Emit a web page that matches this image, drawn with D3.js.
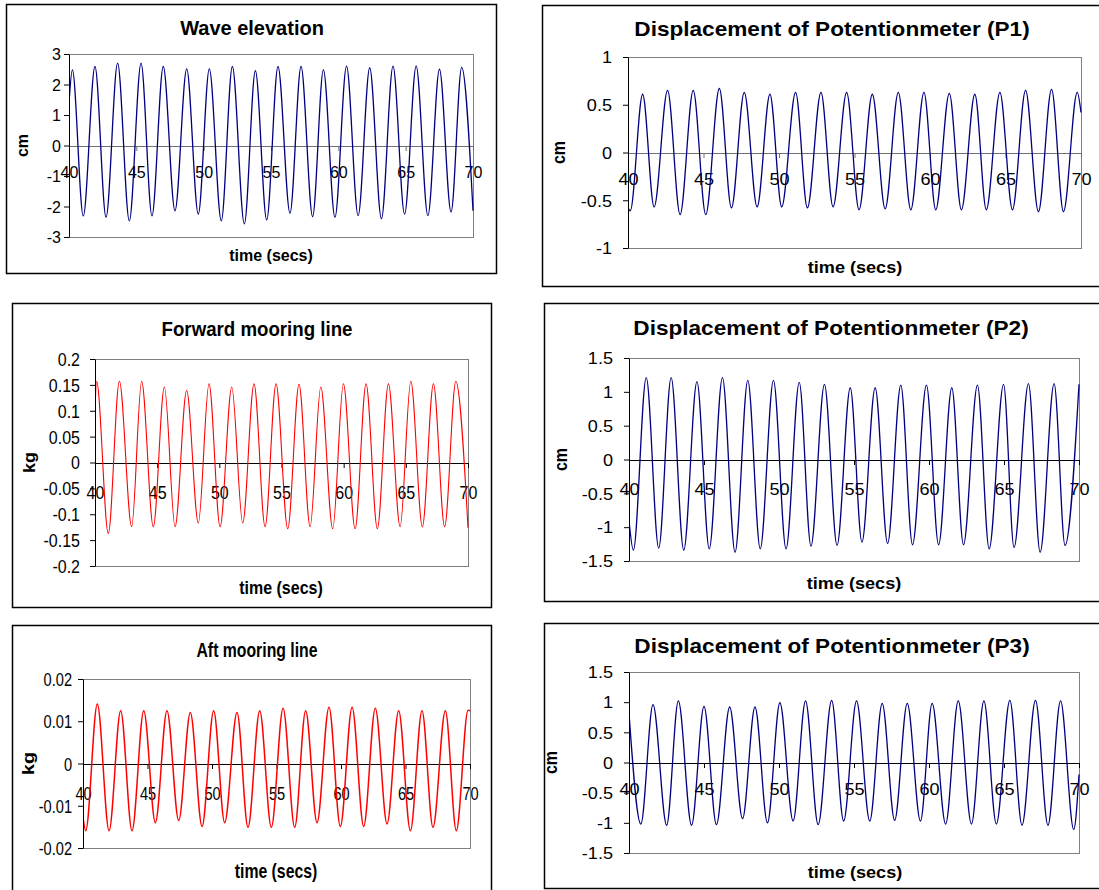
<!DOCTYPE html>
<html lang="en">
<head>
<meta charset="utf-8">
<title>Mooring test time series</title>
<script src="https://d3js.org/d3.v7.min.js"></script>
<style>
body { margin: 0; background: #fff; }
text { font-family: "Liberation Sans", Arial, sans-serif; }
</style>
</head>
<body>
<div id="chart"></div>
<script>
// time axis shared by all six charts
var xTicks = [40, 45, 50, 55, 60, 65, 70];

// extrema (time in s, value)
var waveTime = [40.0, 40.25, 41.06, 41.93, 42.75, 43.61, 44.48, 45.35, 46.16, 47.0, 47.87, 48.74, 49.6, 50.42, 51.31, 52.13, 53.02, 53.84, 54.68, 55.52, 56.41, 57.23, 58.09, 58.89, 59.75, 60.61, 61.47, 62.33, 63.2, 64.06, 64.92, 65.78, 66.65, 67.51, 68.37, 69.16, 70.0];
var waveElev = [1.39, 2.48, -2.31, 2.59, -2.35, 2.7, -2.47, 2.7, -2.31, 2.59, -2.14, 2.51, -2.25, 2.51, -2.47, 2.59, -2.57, 2.45, -2.44, 2.59, -2.22, 2.59, -2.33, 2.48, -2.35, 2.6, -2.3, 2.55, -2.4, 2.6, -2.25, 2.6, -2.3, 2.5, -2.18, 2.56, -2.14];
var waveTicks = [-3, -2, -1, 0, 1, 2, 3];

var p1Time = [40.0, 40.15, 40.97, 41.73, 42.62, 43.45, 44.32, 45.15, 46.05, 46.85, 47.7, 48.55, 49.4, 50.18, 51.1, 51.88, 52.78, 53.58, 54.48, 55.3, 56.18, 57.03, 57.9, 58.73, 59.6, 60.38, 61.28, 62.08, 62.97, 63.73, 64.63, 65.46, 66.33, 67.18, 68.05, 68.84, 69.75, 70.0];
var p1Disp = [-0.58, -0.61, 0.61, -0.57, 0.65, -0.65, 0.65, -0.65, 0.67, -0.58, 0.63, -0.57, 0.61, -0.57, 0.63, -0.58, 0.63, -0.57, 0.63, -0.6, 0.61, -0.59, 0.63, -0.6, 0.63, -0.6, 0.62, -0.6, 0.61, -0.6, 0.63, -0.6, 0.65, -0.62, 0.66, -0.62, 0.63, 0.42];
var p1Ticks = [-1, -0.5, 0, 0.5, 1];

var fwdTime = [40.0, 40.13, 41.07, 41.96, 42.95, 43.75, 44.69, 45.58, 46.44, 47.37, 48.31, 49.17, 50.06, 51.0, 51.88, 52.79, 53.68, 54.56, 55.5, 56.41, 57.3, 58.16, 59.12, 59.98, 60.92, 61.8, 62.71, 63.6, 64.54, 65.4, 66.33, 67.22, 68.12, 69.02, 70.0];
var fwdLoad = [0.1, 0.157, -0.137, 0.157, -0.124, 0.157, -0.124, 0.146, -0.124, 0.139, -0.117, 0.152, -0.124, 0.146, -0.117, 0.152, -0.124, 0.152, -0.128, 0.151, -0.124, 0.146, -0.128, 0.152, -0.128, 0.152, -0.128, 0.152, -0.124, 0.157, -0.124, 0.152, -0.124, 0.157, -0.126];
var fwdTicks = [-0.2, -0.15, -0.1, -0.05, 0, 0.05, 0.1, 0.15, 0.2];

var p2Time = [40.0, 40.29, 41.15, 41.98, 42.81, 43.65, 44.53, 45.35, 46.23, 47.07, 47.92, 48.75, 49.63, 50.47, 51.35, 52.13, 53.03, 53.87, 54.75, 55.53, 56.41, 57.24, 58.12, 58.9, 59.83, 60.64, 61.52, 62.3, 63.23, 64.01, 64.97, 65.67, 66.63, 67.41, 68.34, 69.07, 70.0];
var p2Disp = [-0.9, -1.34, 1.21, -1.31, 1.21, -1.34, 1.15, -1.32, 1.21, -1.37, 1.17, -1.32, 1.17, -1.32, 1.14, -1.28, 1.11, -1.27, 1.06, -1.22, 1.06, -1.24, 1.1, -1.26, 1.1, -1.26, 1.06, -1.26, 1.1, -1.32, 1.11, -1.3, 1.12, -1.37, 1.12, -1.27, 1.11];
var p2Ticks = [-1.5, -1, -0.5, 0, 0.5, 1, 1.5];

var aftTime = [40.0, 40.21, 41.11, 42.02, 42.92, 43.8, 44.71, 45.61, 46.51, 47.42, 48.32, 49.23, 50.13, 50.98, 51.94, 52.79, 53.7, 54.6, 55.51, 56.41, 57.26, 58.14, 59.07, 59.95, 60.86, 61.76, 62.66, 63.57, 64.47, 65.38, 66.28, 67.13, 68.09, 68.94, 69.85, 70.0];
var aftLoad = [-0.0127, -0.0159, 0.0141, -0.0159, 0.0125, -0.0159, 0.0125, -0.014, 0.0125, -0.0135, 0.0121, -0.0149, 0.0125, -0.014, 0.0121, -0.0151, 0.0125, -0.0151, 0.0131, -0.0151, 0.0125, -0.014, 0.0133, -0.0149, 0.0133, -0.0149, 0.0131, -0.0143, 0.0125, -0.0159, 0.0125, -0.0151, 0.0125, -0.0159, 0.0126, 0.0125];
var aftTicks = [-0.02, -0.01, 0, 0.01, 0.02];

var p3Time = [40.0, 40.79, 41.6, 42.51, 43.29, 44.17, 45.0, 45.83, 46.71, 47.57, 48.4, 49.23, 50.06, 50.94, 51.77, 52.61, 53.51, 54.31, 55.17, 56.05, 56.88, 57.71, 58.55, 59.43, 60.21, 61.11, 61.95, 62.83, 63.66, 64.49, 65.39, 66.2, 67.1, 67.93, 68.77, 69.65, 70.0];
var p3Disp = [0.82, -1.02, 0.96, -1.04, 1.02, -1.04, 0.93, -1.03, 0.92, -0.93, 0.92, -1.0, 0.99, -0.97, 1.02, -1.03, 1.03, -0.97, 1.02, -0.97, 0.98, -0.96, 0.98, -0.97, 0.98, -1.02, 1.02, -1.02, 1.02, -1.02, 1.03, -1.04, 1.03, -1.04, 1.02, -1.11, -0.2];
var p3Ticks = [-1.5, -1, -0.5, 0, 0.5, 1, 1.5];

var panels = [
  {title: "Wave elevation", unit: "cm", time: waveTime, vals: waveElev, ticks: waveTicks, color: "#000080"},
  {title: "Displacement of Potentionmeter (P1)", unit: "cm", time: p1Time, vals: p1Disp, ticks: p1Ticks, color: "#000080"},
  {title: "Forward mooring line", unit: "kg", time: fwdTime, vals: fwdLoad, ticks: fwdTicks, color: "#ff0000"},
  {title: "Displacement of Potentionmeter (P2)", unit: "cm", time: p2Time, vals: p2Disp, ticks: p2Ticks, color: "#000080"},
  {title: "Aft mooring line", unit: "kg", time: aftTime, vals: aftLoad, ticks: aftTicks, color: "#ff0000"},
  {title: "Displacement of Potentionmeter (P3)", unit: "cm", time: p3Time, vals: p3Disp, ticks: p3Ticks, color: "#000080"}
];

// each chart was pasted at its own size, so text is stretched by sx
var layout = [
  {frame: [6, 4, 496, 273], plot: [69, 54, 473, 237], sx: 1, fT: 20, fK: 16, fL: 16, lw: 1.3,
   titleX: 252, titleY: 35, unitX: 23, labelX: 271, labelY: 261, xTickY: 178, yTickR: 61, zero: "#707070"},
  {frame: [542, 5, 1125, 286], plot: [628, 57, 1081, 248], sx: 1.13, fT: 20, fK: 16, fL: 16, lw: 1.3,
   titleX: 832, titleY: 36, unitX: 560, labelX: 855, labelY: 273, xTickY: 185, yTickR: 612, zero: "#707070"},
  {frame: [12, 303, 491, 607], plot: [95, 359, 468, 566], sx: 0.89, fT: 21, fK: 18, fL: 18, lw: 1.1,
   titleX: 257, titleY: 336, unitX: 30, labelX: 281, labelY: 594, xTickY: 499, yTickR: 80, zero: "#000"},
  {frame: [544, 303, 1125, 601], plot: [629, 358, 1079, 561], sx: 1.13, fT: 20, fK: 16, fL: 16, lw: 1.3,
   titleX: 831, titleY: 335, unitX: 562, labelX: 854, labelY: 589, xTickY: 495, yTickR: 613, zero: "#000"},
  {frame: [12, 625, 491, 900], plot: [83, 679, 470, 848], sx: 0.79, fT: 20, fK: 18.5, fL: 20, lw: 1.5,
   titleX: 257, titleY: 657, unitX: 29, labelX: 276, labelY: 878, xTickY: 800, yTickR: 72, zero: "#000"},
  {frame: [544, 623, 1125, 888], plot: [629, 672, 1079, 853], sx: 1.13, fT: 20, fK: 16, fL: 16, lw: 1.3,
   titleX: 832, titleY: 653, unitX: 552, labelX: 855, labelY: 878, xTickY: 795, yTickR: 613, zero: "#000"}
];

var svg = d3.select("#chart").append("svg")
    .attr("width", 1099)
    .attr("height", 890);
svg.append("rect").attr("width", 1099).attr("height", 890).attr("fill", "#fff");

function fmt(d) { return String(+d.toFixed(3)); }

panels.forEach(function(p, i) {
  var L = layout[i];
  var g = svg.append("g");

  g.append("rect")
    .attr("x", L.frame[0] + 0.5).attr("y", L.frame[1] + 0.5)
    .attr("width", L.frame[2] - L.frame[0]).attr("height", L.frame[3] - L.frame[1])
    .attr("fill", "#fff").attr("stroke", "#000").attr("stroke-width", 1.5);

  var x = d3.scaleLinear().domain([40, 70]).range([L.plot[0], L.plot[2]]);
  var y = d3.scaleLinear().domain(d3.extent(p.ticks)).range([L.plot[3], L.plot[1]]);

  g.append("rect")
    .attr("x", L.plot[0] + 0.5).attr("y", L.plot[1] + 0.5)
    .attr("width", L.plot[2] - L.plot[0]).attr("height", L.plot[3] - L.plot[1])
    .attr("fill", "#fff").attr("stroke", "#808080");

  // x axis sits on the zero line
  var gx = g.append("g")
    .attr("transform", "translate(0," + Math.round(y(0)) + ")")
    .call(d3.axisBottom(x).tickValues(xTicks).tickSize(5).tickSizeOuter(5).tickFormat(d3.format("d")));
  gx.attr("font-family", null).attr("font-size", L.fK);
  gx.selectAll("path, line").attr("stroke", L.zero);
  gx.selectAll("text")
    .attr("y", 0).attr("dy", null).attr("fill", "#000")
    .attr("transform", "translate(0," + (L.xTickY - Math.round(y(0))) + ") scale(" + L.sx + ",1)");

  var clipId = "clip" + i;
  g.append("clipPath").attr("id", clipId).append("rect")
    .attr("x", L.plot[0]).attr("y", L.plot[1] - 2)
    .attr("width", L.plot[2] - L.plot[0] + 1).attr("height", L.plot[3] - L.plot[1] + 4);

  var line = d3.line()
    .x(function(d, k) { return x(p.time[k]); })
    .y(function(d) { return y(d); })
    .curve(d3.curveMonotoneX);

  g.append("path")
    .attr("clip-path", "url(#" + clipId + ")")
    .attr("d", line(p.vals))
    .attr("fill", "none")
    .attr("stroke", p.color)
    .attr("stroke-width", L.lw);

  var gy = g.append("g")
    .attr("transform", "translate(" + L.plot[0] + ",0)")
    .call(d3.axisLeft(y).tickValues(p.ticks).tickSize(5).tickSizeOuter(0).tickFormat(fmt));
  gy.attr("font-family", null).attr("font-size", L.fK);
  gy.selectAll("path, line").attr("stroke", "#000");
  gy.selectAll("text")
    .attr("x", 0).attr("dy", "0.36em").attr("fill", "#000")
    .attr("transform", "translate(" + (L.yTickR - L.plot[0]) + ",0) scale(" + L.sx + ",1)");

  g.append("text")
    .attr("transform", "translate(" + L.titleX + "," + L.titleY + ") scale(" + L.sx + ",1)")
    .attr("text-anchor", "middle")
    .attr("font-weight", "bold")
    .attr("font-size", L.fT)
    .text(p.title);

  g.append("text")
    .attr("transform", "translate(" + L.labelX + "," + L.labelY + ") scale(" + L.sx + ",1)")
    .attr("text-anchor", "middle")
    .attr("font-weight", "bold")
    .attr("font-size", L.fL)
    .text("time (secs)");

  g.append("text")
    .attr("transform", "translate(" + L.unitX + "," + ((L.plot[1] + L.plot[3]) / 2) + ") scale(" + L.sx + ",1) rotate(-90)")
    .attr("text-anchor", "middle")
    .attr("dy", "0.3em")
    .attr("font-weight", "bold")
    .attr("font-size", L.fL)
    .text(p.unit);
});
</script>
</body>
</html>
